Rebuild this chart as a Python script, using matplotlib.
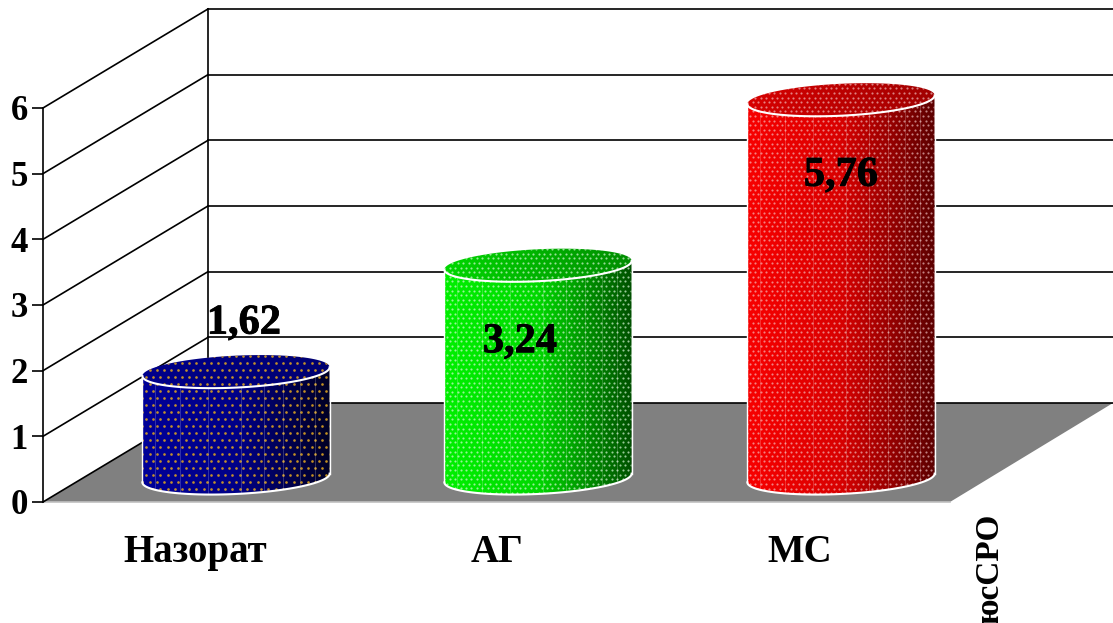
import numpy as np
import matplotlib
matplotlib.use('Agg')
import matplotlib.pyplot as plt
import matplotlib.patheffects as pe
from matplotlib.colors import LinearSegmentedColormap
from matplotlib.patches import Polygon, PathPatch
from matplotlib.path import Path

CATEGORIES = ['Назорат', 'АГ', 'МС']
VALUES = [1.62, 3.24, 5.76]
VALUE_LABELS = ['1,62', '3,24', '5,76']
Y_TICKS = [0, 1, 2, 3, 4, 5, 6]
SERIES_NAME = 'юсСРО'

BAR_X = [236, 538, 841]
LABEL_X = [195, 497, 800]
TEXT_DX = [8, -18, 0]
TEXT_DY = [72, -53, -52]

SIDE_COLORS = [['#000098', '#000088', '#000024'],
               ['#00f000', '#00d800', '#005000'],
               ['#f80000', '#d80000', '#5c0000']]
TOP_COLORS = [['#00008c', '#000070'],
              ['#00d800', '#008c00'],
              ['#d80000', '#a00000']]
DOT_COLORS = ['#d8a020', '#d8f8d8', '#f4c8c8']
DOT_STEP = [7.2, 5.4, 5.4]
ROW_STEP = [7.0, 4.6, 4.6]
DOT_SIZE = [3.6, 2.4, 2.4]
DOT_ALPHA = [0.9, 0.7, 0.65]

W, H = 1113, 623
PX = 65.67      # pixels per unit on the value axis
ZERO_Y = 502
DEPTH_X, DEPTH_Y = 165, 99
BASE_LIFT = 24
E1 = np.array([91.0, 8.0])
E2 = np.array([-22.0, 14.5])

plt.rcParams['font.family'] = ['Liberation Serif', 'DejaVu Serif']
plt.rcParams['font.weight'] = 'bold'

fig = plt.figure(figsize=(W / 100, H / 100), dpi=100)
ax = fig.add_axes([0, 0, 1, 1])
ax.set_xlim(0, W)
ax.set_ylim((ZERO_Y - H) / PX, ZERO_Y / PX)
ax.patch.set_visible(False)


def ellipse(cx, v, t):
    x = cx + E1[0] * np.cos(t) + E2[0] * np.sin(t)
    y = v + BASE_LIFT / PX + (E1[1] * np.cos(t) + E2[1] * np.sin(t)) / PX
    return np.column_stack([x, y])


def gradient_image(colors, box, zorder):
    cmap = LinearSegmentedColormap.from_list('g', colors)
    grad = np.linspace(0, 1, 256).reshape(1, -1)
    return ax.imshow(grad, cmap=cmap, extent=box, aspect='auto', zorder=zorder,
                     interpolation='bilinear')


def dots(i, cx, half, v0, v1, clip, zorder):
    # staggered dot fill, spaced in pixels
    step = DOT_STEP[i]
    rows = np.arange(ZERO_Y - v1 * PX - 40, ZERO_Y - v0 * PX + 40, ROW_STEP[i])
    xs, ys = [], []
    for k, r in enumerate(rows):
        col = np.arange(cx - half - step, cx + half + step, step) + (k % 2) * step / 2
        xs.extend(col)
        ys.extend([(ZERO_Y - r) / PX] * len(col))
    pts = ax.scatter(xs, ys, s=DOT_SIZE[i], c=DOT_COLORS[i], linewidths=0,
                     zorder=zorder, alpha=DOT_ALPHA[i])
    pts.set_clip_path(clip)


# floor and walls
floor = Polygon([(43, 0), (43 + DEPTH_X, DEPTH_Y / PX), (W, DEPTH_Y / PX), (950, 0)],
                closed=True, fc='#808080', ec='none', zorder=1)
ax.add_patch(floor)
ax.plot([43, 950], [0, 0], color='#c0c0c0', lw=1.2, zorder=1.5)
for v in Y_TICKS:
    back = v + DEPTH_Y / PX
    ax.plot([43, 43 + DEPTH_X], [v, back], color='black', lw=1.2, zorder=2)
    ax.plot([43 + DEPTH_X, W], [back, back], color='black', lw=1.2, zorder=2)
ax.plot([43 + DEPTH_X] * 2, [DEPTH_Y / PX, 6 + DEPTH_Y / PX], color='black', lw=1.2, zorder=2)

# cylinders
for i, (cx, v) in enumerate(zip(BAR_X, VALUES)):
    z = 3 + i
    t0 = np.arctan2(E2[0], E1[0])
    half = np.hypot(E1[0], E2[0])
    low = ellipse(cx, 0, np.linspace(t0 + np.pi, t0 + 2 * np.pi, 80))
    high = ellipse(cx, v, np.linspace(t0 + 2 * np.pi, t0 + np.pi, 80))
    side_xy = np.vstack([low, high])
    side_path = Path(np.vstack([side_xy, side_xy[0]]), closed=True)
    side = PathPatch(side_path, fc='none', ec='none', transform=ax.transData)
    ax.add_patch(side)
    box = (cx - half, cx + half, -1, v + 1)
    img = gradient_image(SIDE_COLORS[i], box, z)
    img.set_clip_path(side)
    dots(i, cx, half, 0, v, side, z + 0.1)

    # faint seams on the curved side
    seams = cx + half * np.array([-0.86, -0.6, -0.3, 0.05, 0.3, 0.5, 0.68, 0.84])
    for sx in seams:
        ln, = ax.plot([sx, sx], [-1, v + 1], color='white', lw=0.7, alpha=0.2, zorder=z + 0.2)
        ln.set_clip_path(side)

    top_xy = ellipse(cx, v, np.linspace(0, 2 * np.pi, 160))
    top = Polygon(top_xy, closed=True, fc='none', ec='none')
    ax.add_patch(top)
    img2 = gradient_image(TOP_COLORS[i], box, z + 0.3)
    img2.set_clip_path(top)
    dots(i, cx, half, v, v, top, z + 0.4)

    # white outline: front rim, sides and bottom edge
    rim = ellipse(cx, v, np.linspace(t0 + np.pi, t0 + 2 * np.pi, 80))
    ax.plot(rim[:, 0], rim[:, 1], color='white', lw=1.5, zorder=z + 0.5)
    ax.plot(low[:, 0], low[:, 1], color='white', lw=1.5, zorder=z + 0.5)
    for idx in (0, -1):
        ax.plot([low[idx, 0], rim[idx, 0]], [low[idx, 1], rim[idx, 1]],
                color='white', lw=1.0, zorder=z + 0.5)

    ax.text(cx + TEXT_DX[i], v + TEXT_DY[i] / PX, VALUE_LABELS[i], fontsize=30.5,
            fontweight='bold', ha='center', va='center', color='black', zorder=10,
            path_effects=[pe.withStroke(linewidth=0.6, foreground='black')])

ax.set_ylim((ZERO_Y - H) / PX, ZERO_Y / PX)
ax.set_xlim(0, W)

# axes proper
for name in ('top', 'right'):
    ax.spines[name].set_visible(False)
ax.spines['left'].set_position(('data', 43))
ax.spines['left'].set_bounds(0, 6)
ax.spines['left'].set_linewidth(1.2)
ax.spines['bottom'].set_visible(False)
ax.spines['bottom'].set_position(('data', 0))
ax.set_yticks(Y_TICKS)
ax.set_yticklabels([str(t) for t in Y_TICKS], fontsize=25, fontweight='bold')
ax.tick_params(axis='y', length=8, width=1.2, pad=3)
ax.set_xticks(LABEL_X)
ax.set_xticklabels(CATEGORIES, fontsize=28, fontweight='bold')
ax.tick_params(axis='x', length=0, pad=23)

ax.text(990, (ZERO_Y - 514) / PX, SERIES_NAME, rotation=90, fontsize=24, fontweight='bold',
        ha='center', va='top', color='black', clip_on=True)

fig.savefig('out.png', dpi=100)
